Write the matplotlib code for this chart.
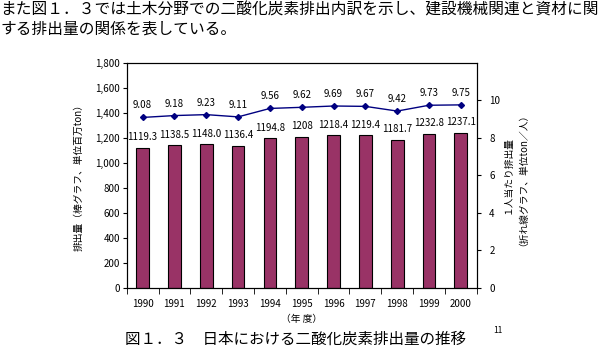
import numpy as np
import matplotlib.pyplot as plt

plt.rcParams['font.family'] = ['Noto Sans CJK JP', 'DejaVu Sans']

years = ['1990', '1991', '1992', '1993', '1994', '1995', '1996', '1997', '1998', '1999', '2000']
emissions = [1119.3, 1138.5, 1148.0, 1136.4, 1194.8, 1208, 1218.4, 1219.4, 1181.7, 1232.8, 1237.1]
emission_labels = ['1119.3', '1138.5', '1148.0', '1136.4', '1194.8', '1208', '1218.4', '1219.4', '1181.7', '1232.8', '1237.1']
per_capita = [9.08, 9.18, 9.23, 9.11, 9.56, 9.62, 9.69, 9.67, 9.42, 9.73, 9.75]

fig = plt.figure(figsize=(6.02, 3.56), dpi=100)
ax = fig.add_axes([0.2105, 0.1919, 0.5814, 0.632])
x = np.arange(len(years))

ax.bar(x, emissions, width=0.4, color='#993366', edgecolor='black', linewidth=0.8, zorder=2)
for xi, v, s in zip(x, emissions, emission_labels):
    ax.annotate(s, (xi, v), xytext=(0, 4), textcoords='offset points',
                ha='center', va='bottom', fontsize=7)

ax.set_xlim(-0.5, len(years) - 0.5)
ax.set_ylim(0, 1800)
ax.set_yticks(range(0, 1801, 200))
ax.set_yticklabels([f'{v:,}' for v in range(0, 1801, 200)], fontsize=7)
ax.set_xticks(x)
ax.set_xticklabels(years, fontsize=7)
ax.set_xticks(np.arange(-0.5, len(years)), minor=True)
ax.tick_params(axis='x', which='major', length=0, pad=8)
ax.tick_params(axis='x', which='minor', length=4, direction='out')
ax.tick_params(axis='y', length=3, direction='out', pad=2)
ax.set_ylabel('排出量（棒グラフ、単位百万ton）', fontsize=7, labelpad=8)
ax.set_xlabel('（年 度）', fontsize=7, labelpad=4)

ax2 = ax.twinx()
ax2.plot(x, per_capita, color='#000080', marker='D', markersize=3, linewidth=1.0)
for xi, v in zip(x, per_capita):
    ax2.annotate(f'{v:.2f}', (xi, v), xytext=(0, 5), textcoords='offset points',
                 ha='center', va='bottom', fontsize=7)
ax2.set_ylim(0, 12)
ax2.set_yticks(range(0, 11, 2))
ax2.set_yticklabels([str(v) for v in range(0, 11, 2)], fontsize=7)
ax2.tick_params(axis='y', length=3, direction='out', pad=6)
ax2.set_ylabel('１人当たり排出量\n（折れ線グラフ、単位ton／人）', fontsize=7,
               labelpad=2, rotation=90, linespacing=1.0)

for a in (ax, ax2):
    for sp in a.spines.values():
        sp.set_linewidth(0.8)

fig.text(0.0, 0.997, 'また図１．３では土木分野での二酸化炭素排出内訳を示し、建設機械関連と資材に関',
         fontsize=11.3, va='top', ha='left')
fig.text(0.0, 0.943, 'する排出量の関係を表している。', fontsize=11.3, va='top', ha='left')
fig.text(0.208, 0.034, '図１．３　日本における二酸化炭素排出量の推移', fontsize=11.2,
         va='baseline', ha='left')
fig.text(0.82, 0.065, '11', fontsize=6, va='baseline', ha='left')

fig.savefig('out.png', dpi=100)
